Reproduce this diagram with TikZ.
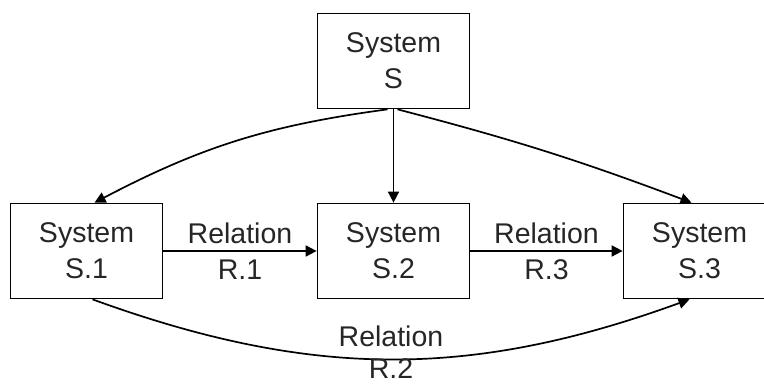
\documentclass[tikz,border=0pt]{standalone}
\usepackage{fontspec}
\setmainfont{Liberation Sans}
\usetikzlibrary{arrows.meta}
\begin{document}
\begin{tikzpicture}[x=1pt,y=1pt,
  txt/.style={font=\fontsize{28.5}{36}\selectfont, text=black!85},
  sysbox/.style={txt, draw, line width=1.7pt, minimum width=152pt,
    minimum height=95pt, inner sep=0pt, align=center},
  rel/.style={line width=1.7pt, -{Triangle[length=11pt,width=11pt]}},
  lbl/.style={txt, align=center, inner sep=0pt}]
\useasboundingbox (0,0) rectangle (764,-385);
\clip (0,0) rectangle (764,-385);

% systems
\node[sysbox] (s)  at (393.5,-61)  {System\\S};
\node[sysbox] (s1) at (86.5,-251)  {System\\S.1};
\node[sysbox] (s2) at (393.5,-251) {System\\S.2};
\node[sysbox] (s3) at (699.5,-251) {System\\S.3};

% decomposition arrows
\draw[rel] ([xshift=-6pt]s.south) to[bend right=10] ([xshift=8pt]s1.north);
\draw[rel] (s.south) -- (s2.north);
\draw[rel] ([xshift=4pt]s.south) to[bend left=3] ([xshift=-8pt]s3.north);

% relations
\draw[rel] (s1.east) -- node[lbl] {Relation\\R.1} (s2.west);
\draw[rel] (s2.east) -- node[lbl] {Relation\\R.3} (s3.west);
\draw[rel] ([xshift=6pt]s1.south) to[bend right=20]
  node[lbl, font=\fontsize{28.5}{32}\selectfont, yshift=7pt]
  {Relation\\R.2} ([xshift=-10pt]s3.south);
\end{tikzpicture}
\end{document}
